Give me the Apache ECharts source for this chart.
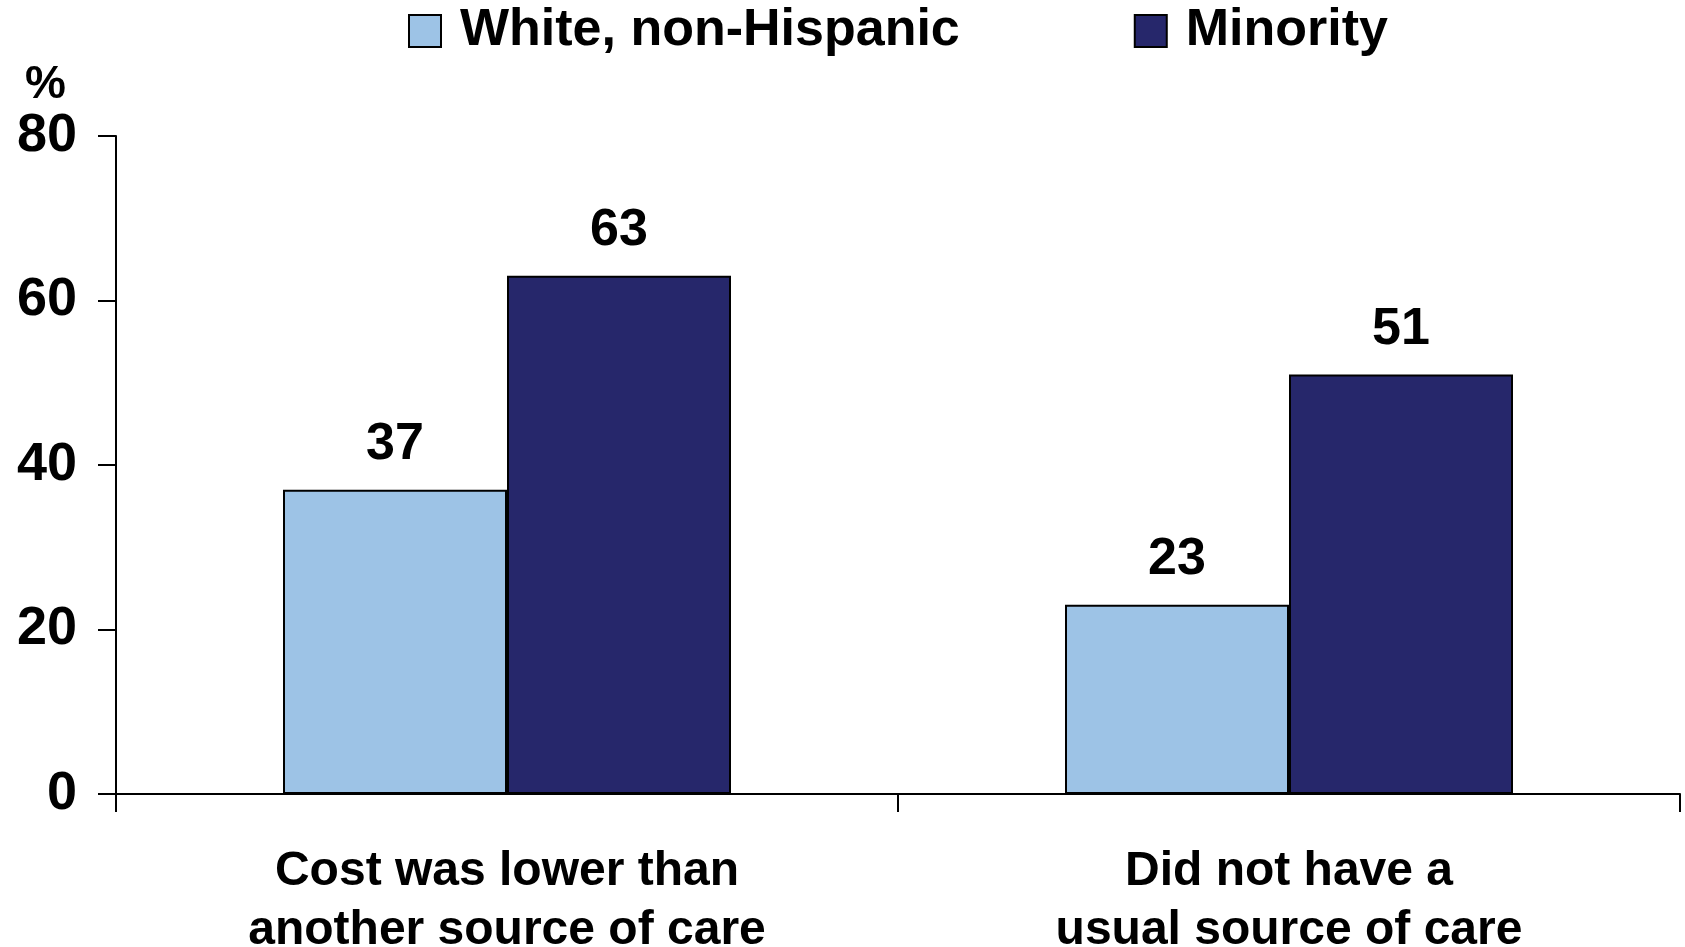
<!DOCTYPE html>
<html>
<head>
<meta charset="utf-8">
<script src="https://cdn.jsdelivr.net/npm/echarts@6/dist/echarts.min.js"></script>
<style>
  html, body { margin: 0; padding: 0; background: #ffffff; }
  #chart { width: 1685px; height: 947px; }
</style>
</head>
<body>
<div id="chart"></div>
<script>
// Reasons for using a retail clinic, by race/ethnicity (%)
const categories = ['Cost was lower than\nanother source of care', 'Did not have a\nusual source of care'];
const whiteNonHispanic = [37, 23];
const minority = [63, 51];
const seriesNames = ['White, non-Hispanic', 'Minority'];
const yTicks = { min: 0, max: 80, interval: 20 };

const FONT = '"Liberation Sans", Arial, sans-serif';
const chart = echarts.init(document.getElementById('chart'), null, { renderer: 'canvas' });

const barLabel = {
  show: true,
  position: 'top',
  distance: 19,
  color: '#000',
  fontFamily: FONT,
  fontWeight: 'bold',
  fontSize: 52,
  lineHeight: 52
};

chart.setOption({
  animation: false,
  backgroundColor: '#ffffff',
  legend: {
    left: 403,
    top: 0,
    itemWidth: 32,
    itemHeight: 32,
    itemGap: 174,
    icon: 'rect',
    textStyle: {
      fontFamily: FONT,
      fontWeight: 'bold',
      fontSize: 52,
      color: '#000',
      padding: [0, 0, 0, 14]
    },
    data: seriesNames
  },
  graphic: [{
    type: 'text',
    left: 25,
    top: 62,
    style: { text: '%', font: 'bold 46px ' + FONT, fill: '#000' }
  }],
  grid: {
    left: 116, right: 5, top: 136, bottom: 153,
    containLabel: false,
    outerBoundsMode: 'none'
  },
  xAxis: {
    type: 'category',
    data: categories,
    boundaryGap: true,
    axisLine: { show: true, lineStyle: { color: '#000', width: 2 } },
    axisTick: { show: true, length: 18, lineStyle: { color: '#000', width: 2 } },
    axisLabel: {
      margin: 48,
      color: '#000',
      fontFamily: FONT,
      fontWeight: 'bold',
      fontSize: 48,
      lineHeight: 59,
      interval: 0
    },
    splitLine: { show: false }
  },
  yAxis: {
    type: 'value',
    min: yTicks.min,
    max: yTicks.max,
    interval: yTicks.interval,
    axisLine: { show: true, lineStyle: { color: '#000', width: 2 } },
    axisTick: { show: true, length: 18, lineStyle: { color: '#000', width: 2 } },
    axisLabel: {
      margin: 39,
      color: '#000',
      fontFamily: FONT,
      fontWeight: 'bold',
      fontSize: 54
    },
    splitLine: { show: false }
  },
  series: [
    {
      name: seriesNames[0],
      type: 'bar',
      data: whiteNonHispanic,
      barWidth: 224,
      barGap: '0%',
      itemStyle: { color: '#9DC3E6', borderColor: '#000', borderWidth: 2 },
      label: barLabel
    },
    {
      name: seriesNames[1],
      type: 'bar',
      data: minority,
      barWidth: 224,
      barGap: '0%',
      itemStyle: { color: '#26276B', borderColor: '#000', borderWidth: 2 },
      label: barLabel
    }
  ]
});
</script>
</body>
</html>
